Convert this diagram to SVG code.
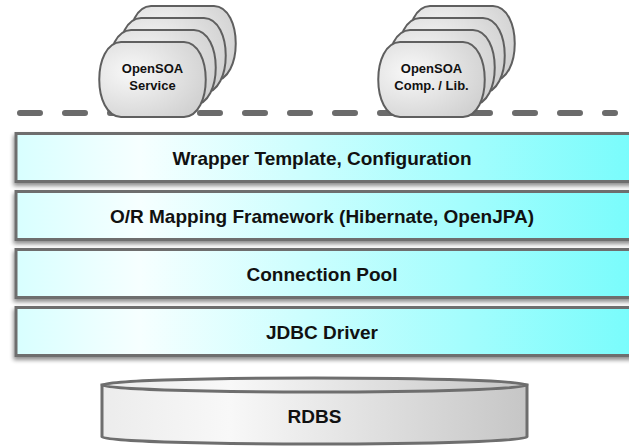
<svg xmlns="http://www.w3.org/2000/svg" xmlns:xlink="http://www.w3.org/1999/xlink" width="629" height="446" viewBox="0 0 629 446">
  <style>
    .lbl { font-family: "Liberation Sans", Arial, Helvetica, sans-serif; font-weight: bold; fill: #111; text-anchor: middle; }
    .layer-txt { font-size: 19px; }
    .cloud-txt { font-size: 13px; }
    .layer { fill: url(#layerFill); stroke: #6e6e6e; stroke-width: 3; filter: url(#shadow); }
    .cloud { fill: url(#cloudFill); stroke: #5f5f5f; stroke-width: 2; }
    .divider { fill: none; stroke: #6b6b6b; stroke-width: 6; stroke-linecap: round; stroke-dasharray: 20 25; }
  </style>
  <defs>
    <linearGradient id="layerFill" x1="0" y1="0" x2="1" y2="0">
      <stop offset="0" stop-color="#d8ffff"/>
      <stop offset="0.2" stop-color="#f6ffff"/>
      <stop offset="1" stop-color="#78fcfc"/>
    </linearGradient>
    <radialGradient id="cloudFill" cx="0.3" cy="0.4" r="0.8">
      <stop offset="0" stop-color="#f8f8f8"/>
      <stop offset="1" stop-color="#cfcfcf"/>
    </radialGradient>
    <linearGradient id="dbFill" x1="0" y1="0" x2="1" y2="0">
      <stop offset="0" stop-color="#ececec"/>
      <stop offset="0.3" stop-color="#f8f8f8"/>
      <stop offset="1" stop-color="#c6c6c6"/>
    </linearGradient>
    <filter id="shadow" x="-5%" y="-20%" width="110%" height="150%">
      <feGaussianBlur in="SourceAlpha" stdDeviation="2"/>
      <feOffset dx="-1" dy="3" result="b"/>
      <feComponentTransfer><feFuncA type="linear" slope="0.45"/></feComponentTransfer>
      <feMerge><feMergeNode/><feMergeNode in="SourceGraphic"/></feMerge>
    </filter>
    <!-- rounded pill with bulging sides, 107 x 75 -->
    <path id="pill" class="cloud" d="M22,0 H85 C114,1 114,74 85,75 H22 C-7,74 -7,1 22,0 Z"/>
  </defs>

  <g id="connectors">
    <line class="divider" x1="20" y1="113" x2="615" y2="113"/>
  </g>

  <g id="opensoa-service">
    <use xlink:href="#pill" x="129" y="6"/>
    <use xlink:href="#pill" x="119" y="18"/>
    <use xlink:href="#pill" x="109" y="30"/>
    <use xlink:href="#pill" x="99" y="42"/>
    <text class="lbl cloud-txt" x="152.5" y="73">OpenSOA</text>
    <text class="lbl cloud-txt" x="152.5" y="90">Service</text>
  </g>

  <g id="opensoa-comp-lib">
    <use xlink:href="#pill" x="408" y="6"/>
    <use xlink:href="#pill" x="398" y="18"/>
    <use xlink:href="#pill" x="388" y="30"/>
    <use xlink:href="#pill" x="378" y="42"/>
    <text class="lbl cloud-txt" x="431.5" y="73">OpenSOA</text>
    <text class="lbl cloud-txt" x="431.5" y="90">Comp. / Lib.</text>
  </g>

  <g id="wrapper-template">
    <rect class="layer" x="16" y="133.5" width="620" height="48"/>
    <text class="lbl layer-txt" x="322" y="164.5">Wrapper Template, Configuration</text>
  </g>
  <g id="or-mapping">
    <rect class="layer" x="16" y="191.5" width="620" height="48"/>
    <text class="lbl layer-txt" x="322" y="222.5">O/R Mapping Framework (Hibernate, OpenJPA)</text>
  </g>
  <g id="connection-pool">
    <rect class="layer" x="16" y="249.5" width="620" height="48"/>
    <text class="lbl layer-txt" x="322" y="280.5">Connection Pool</text>
  </g>
  <g id="jdbc-driver">
    <rect class="layer" x="16" y="307.5" width="620" height="48"/>
    <text class="lbl layer-txt" x="322" y="338.5">JDBC Driver</text>
  </g>

  <g id="rdbs">
    <path d="M102,385 V437 A212.5,7 0 0 0 527,437 V385 Z" fill="url(#dbFill)" stroke="#6e6e6e" stroke-width="3"/>
    <ellipse cx="314.5" cy="385" rx="212.5" ry="7" fill="url(#dbFill)" stroke="#6e6e6e" stroke-width="3"/>
    <text class="lbl layer-txt" x="314.5" y="422.5">RDBS</text>
  </g>
</svg>
